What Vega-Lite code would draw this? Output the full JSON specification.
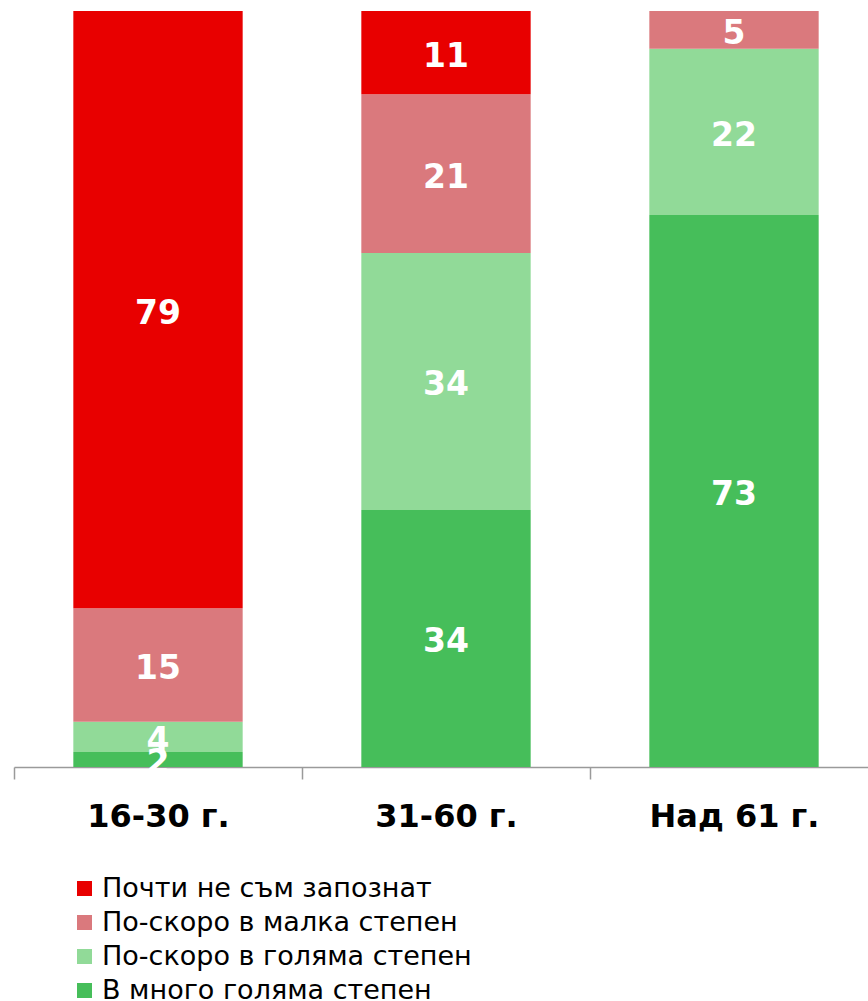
{
  "$schema": "https://vega.github.io/schema/vega-lite/v6.json",
  "width": 864,
  "height": 756,
  "autosize": {"type": "none"},
  "padding": {"left": 14, "top": 11, "right": 0, "bottom": 234},
  "config": {"view": {"stroke": null}, "font": "DejaVu Sans"},
  "data": {"values": [
    {"age": "16-30 г.", "category": "В много голяма степен", "value": 2},
    {"age": "16-30 г.", "category": "По-скоро в голяма степен", "value": 4},
    {"age": "16-30 г.", "category": "По-скоро в малка степен", "value": 15},
    {"age": "16-30 г.", "category": "Почти не съм запознат", "value": 79},
    {"age": "31-60 г.", "category": "В много голяма степен", "value": 34},
    {"age": "31-60 г.", "category": "По-скоро в голяма степен", "value": 34},
    {"age": "31-60 г.", "category": "По-скоро в малка степен", "value": 21},
    {"age": "31-60 г.", "category": "Почти не съм запознат", "value": 11},
    {"age": "Над 61 г.", "category": "В много голяма степен", "value": 73},
    {"age": "Над 61 г.", "category": "По-скоро в голяма степен", "value": 22},
    {"age": "Над 61 г.", "category": "По-скоро в малка степен", "value": 5}
  ]},
  "transform": [
    {"stack": "value", "groupby": ["age"], "sort": [{"field": "category", "order": "ascending"}], "as": ["v0", "v1"]},
    {"calculate": "(datum.v0 + datum.v1) / 2", "as": "mid"}
  ],
  "encoding": {
    "x": {
      "field": "age", "type": "nominal", "sort": null,
      "scale": {"paddingInner": 0.412, "paddingOuter": 0.206},
      "axis": {
        "title": null, "labelAngle": 0, "labelFontSize": 32, "labelFontWeight": "bold",
        "labelColor": "#000000", "labelPadding": 22, "domainColor": "#9a9a9a", "tickColor": "#9a9a9a",
        "tickOffset": -144, "labelOffset": 144, "tickSize": 12, "domainWidth": 1.5, "tickWidth": 1.5
      }
    }
  },
  "layer": [
    {
      "mark": {"type": "bar"},
      "encoding": {
        "y": {"field": "v0", "type": "quantitative", "scale": {"domain": [0, 100]}, "axis": null},
        "y2": {"field": "v1"},
        "color": {
          "field": "category", "type": "nominal",
          "scale": {
            "domain": ["Почти не съм запознат", "По-скоро в малка степен", "По-скоро в голяма степен", "В много голяма степен"],
            "range": ["#e80000", "#da797d", "#91da98", "#46be5a"]
          },
          "legend": {
            "title": null, "orient": "none", "legendX": 57, "legendY": 864, "padding": 0,
            "symbolType": "square", "symbolSize": 225, "symbolStrokeWidth": 0,
            "labelFontSize": 27, "labelColor": "#000000", "labelOffset": 4, "rowPadding": 6,
            "labelLimit": 700
          }
        }
      }
    },
    {
      "mark": {"type": "text", "color": "white", "fontSize": 33, "fontWeight": "bold", "baseline": "middle", "dy": 4},
      "encoding": {
        "y": {"field": "mid", "type": "quantitative", "scale": {"domain": [0, 100]}},
        "text": {"field": "value", "type": "quantitative"}
      }
    }
  ]
}
